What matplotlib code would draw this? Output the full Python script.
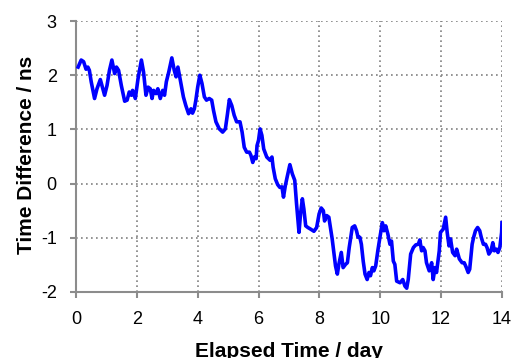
import matplotlib
matplotlib.use('Agg')
import matplotlib.pyplot as plt

plt.rcParams['font.family'] = ['Liberation Sans', 'DejaVu Sans']
plt.rcParams['axes.unicode_minus'] = False

# traced time difference curve
days = [0.07, 0.17, 0.25, 0.33, 0.39, 0.44, 0.5, 0.61, 0.69, 0.8, 0.88, 0.94, 1.02, 1.1, 1.18,
        1.27, 1.33, 1.4, 1.49, 1.6, 1.68, 1.75, 1.82, 1.86, 1.95, 2.04, 2.15, 2.22, 2.3, 2.37,
        2.44, 2.5, 2.55, 2.63, 2.69, 2.77, 2.85, 2.91, 2.97, 3.05, 3.15, 3.23, 3.29, 3.35, 3.45,
        3.53, 3.61, 3.7, 3.78, 3.83, 3.89, 3.94, 4.0, 4.07, 4.14, 4.22, 4.29, 4.38, 4.46, 4.52,
        4.6, 4.71, 4.82, 4.91, 4.98, 5.04, 5.12, 5.2, 5.28, 5.39, 5.46, 5.53, 5.61, 5.7, 5.75,
        5.81, 5.86, 5.92, 5.95, 6.0, 6.05, 6.11, 6.17, 6.27, 6.38, 6.44, 6.48, 6.55, 6.63, 6.7,
        6.77, 6.82, 6.88, 6.94, 7.03, 7.11, 7.19, 7.25, 7.33, 7.38, 7.44, 7.49, 7.55, 7.62, 7.71,
        7.82, 7.91, 7.99, 8.06, 8.13, 8.17, 8.24, 8.31, 8.37, 8.42, 8.48, 8.53, 8.59, 8.64, 8.72,
        8.78, 8.86, 8.92, 8.98, 9.08, 9.16, 9.22, 9.27, 9.33, 9.38, 9.44, 9.5, 9.57, 9.63, 9.68,
        9.74, 9.79, 9.85, 9.92, 9.99, 10.07, 10.12, 10.18, 10.25, 10.32, 10.37, 10.43, 10.48,
        10.54, 10.65, 10.74, 10.81, 10.87, 10.92, 11.0, 11.09, 11.17, 11.25, 11.3, 11.36, 11.41,
        11.47, 11.52, 11.61, 11.69, 11.74, 11.8, 11.85, 11.94, 11.98, 12.07, 12.15, 12.2, 12.26,
        12.31, 12.38, 12.46, 12.51, 12.6, 12.69, 12.76, 12.83, 12.89, 12.94, 13.02, 13.07, 13.13,
        13.2, 13.27, 13.32, 13.39, 13.46, 13.51, 13.57, 13.64, 13.7, 13.75, 13.82, 13.87, 13.93,
        13.99, 14.0]
diff_ns = [2.15, 2.28, 2.25, 2.11, 2.15, 2.09, 1.88, 1.57, 1.75, 1.92, 1.75, 1.63, 1.81, 2.09, 2.28,
           2.03, 2.15, 2.09, 1.81, 1.52, 1.54, 1.69, 1.63, 1.72, 1.57, 1.94, 2.28, 2.06, 1.63, 1.78,
           1.75, 1.57, 1.72, 1.66, 1.75, 1.57, 1.72, 1.63, 1.88, 2.06, 2.32, 2.09, 1.97, 2.15, 1.85,
           1.60, 1.44, 1.29, 1.38, 1.30, 1.38, 1.54, 1.78, 2.0, 1.85, 1.60, 1.54, 1.57, 1.54, 1.35,
           1.14, 1.01, 0.95, 1.01, 1.29, 1.55, 1.44, 1.26, 1.14, 1.14, 0.95, 0.67, 0.58, 0.58, 0.52,
           0.39, 0.49, 0.46, 0.70, 0.80, 1.01, 0.89, 0.64, 0.49, 0.43, 0.49, 0.30, 0.09, -0.02, -0.07,
           -0.06, -0.25, -0.04, 0.12, 0.35, 0.18, 0.06, -0.38, -0.90, -0.56, -0.28, -0.47, -0.78, -0.81, -0.84,
           -0.88, -0.81, -0.56, -0.45, -0.50, -0.69, -0.59, -0.62, -0.84, -1.02, -1.30, -1.52, -1.67, -1.49, -1.27,
           -1.55, -1.49, -1.46, -1.18, -0.81, -0.78, -0.87, -0.99, -0.99, -1.12, -1.43, -1.67, -1.77, -1.64, -1.70,
           -1.55, -1.61, -1.52, -1.24, -0.99, -0.72, -0.87, -0.78, -0.93, -1.12, -1.06, -1.43, -1.49,
           -1.80, -1.83, -1.77, -1.89, -1.93, -1.77, -1.30, -1.18, -1.13, -1.12, -1.04, -1.24, -1.18,
           -1.24, -1.46, -1.61, -1.46, -1.77, -1.55, -1.64, -1.24, -0.90, -0.84, -0.62, -0.90, -1.15,
           -1.02, -1.27, -1.33, -1.21, -1.39, -1.46, -1.46, -1.55, -1.64, -1.58, -1.12, -0.99, -0.87,
           -0.81, -0.87, -0.99, -1.12, -1.12, -1.18, -1.30, -1.24, -1.09, -1.24, -1.21, -1.27, -1.18,
           -0.90, -0.72]

xticks = [0, 2, 4, 6, 8, 10, 12, 14]
yticks = [-2, -1, 0, 1, 2, 3]

fig = plt.figure(figsize=(5.18, 3.58), dpi=100)
ax = fig.add_axes([0.1467, 0.1844, 0.8223, 0.7569])

ax.plot(days, diff_ns, color='#0000ff', lw=2.6, solid_joinstyle='round', zorder=3)

ax.set_xlim(0, 14)
ax.set_ylim(-2, 3)
ax.set_xticks(xticks)
ax.set_yticks(yticks)
ax.grid(True, color='#808080', linestyle=(0, (1, 2)), linewidth=1.2)

for s in ['top', 'right']:
    ax.spines[s].set_visible(False)
for s in ['left', 'bottom']:
    ax.spines[s].set_color('#8c8c8c')
    ax.spines[s].set_linewidth(1.5)
ax.tick_params(direction='out', length=4.3, width=1.5, color='#8c8c8c',
               labelsize=13, pad=9.5)

ax.set_xlabel('Elapsed Time / day', fontsize=15, fontweight='bold', va='baseline')
ax.xaxis.set_label_coords(0.5, -0.241)
ax.set_ylabel('Time Difference / ns', fontsize=15, fontweight='bold', va='baseline')
ax.yaxis.set_label_coords(-0.103, 0.505)

fig.savefig('out.png', dpi=100)
